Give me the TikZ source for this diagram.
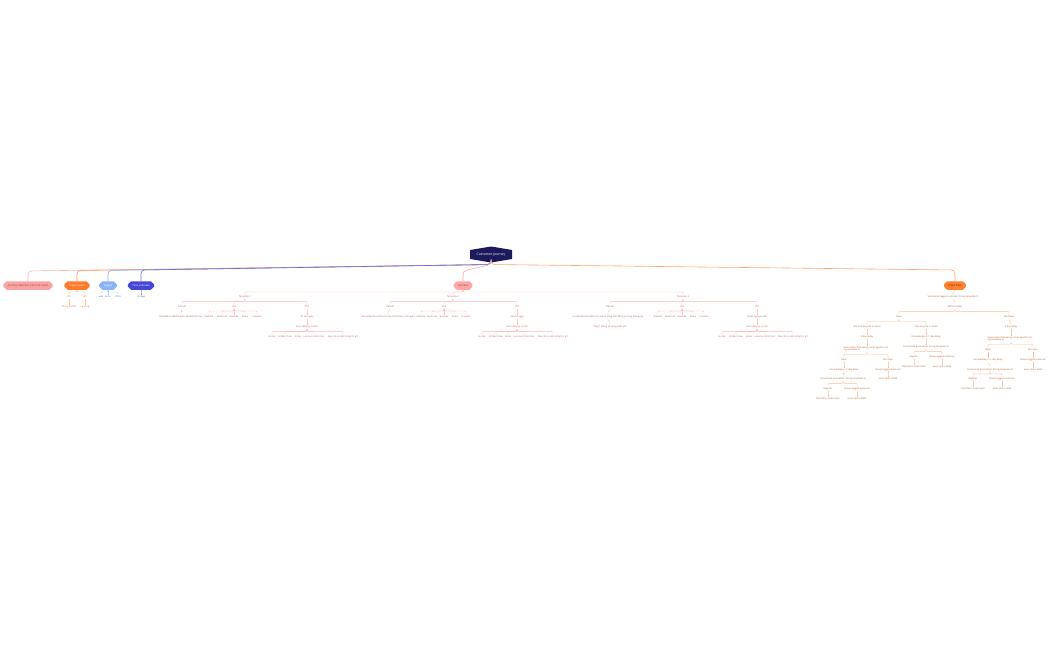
\documentclass[tikz,border=0pt]{standalone}
\usepackage{fontspec}
\setmainfont{Open Sans}
\usetikzlibrary{shapes.misc}
\definecolor{navy}{HTML}{1C1A5C}
\definecolor{cjo}{HTML}{F9A3A3}
\definecolor{cjot}{HTML}{9B3B3B}
\definecolor{cil}{HTML}{FF7A2A}
\definecolor{ctg}{HTML}{8AB2F7}
\definecolor{cte}{HTML}{4646D6}
\definecolor{cct}{HTML}{FFA6A6}
\definecolor{cctt}{HTML}{8B3030}
\definecolor{cef}{HTML}{FF8030}
\definecolor{ceft}{HTML}{6A2A00}
\definecolor{lct}{HTML}{C4575A}
\definecolor{lcl}{HTML}{FFB8B8}
\definecolor{let}{HTML}{B35A22}
\definecolor{lel}{HTML}{FFBE96}
\definecolor{lit}{HTML}{E0742A}
\definecolor{lil}{HTML}{FFB27E}
\definecolor{ltt}{HTML}{4A7DE0}
\definecolor{ltl}{HTML}{A9C6FA}
\definecolor{lxt}{HTML}{3F3FC8}
\definecolor{lxl}{HTML}{8C8CE8}
\newcommand\ed[3][2.5]{\draw[lnk] (#2.south) -- ++(0,#1) -| (#3.north);}
\newcommand\rcon[3]{\draw[rc, draw=#1] (root.south) -- (491,264.5) -- (#3,#2) -- (#3,279.5) -- (#3.north);}
\begin{document}
\begin{tikzpicture}[x=1pt,y=-1pt,
  lvl/.style={chamfered rectangle, chamfered rectangle sep=1.6pt, minimum height=8.5pt,
    inner xsep=3pt, inner ysep=0.5pt, font=\fontsize{2.6}{3}\selectfont},
  lf/.style={font=\fontsize{2.3}{2.7}\selectfont, inner sep=0.5pt, text=#1},
  lnk/.style={draw=black, line width=0.35pt, rounded corners=1pt},
  rc/.style={line width=0.6pt, rounded corners=3.5pt}]
\useasboundingbox[fill=white] (0,0) rectangle (1050,650);

% root
\fill[navy] (470,250) -- (491,246.5) -- (512,250) -- (512,259) -- (491,262.5) -- (470,259) -- cycle;
\node[text=white, font=\fontsize{3.4}{4}\selectfont, minimum height=16pt, inner sep=0pt] (root) at (491,254.5) {Customer Journey};

% level 1
\node[lvl, fill=cjo, text=cjot] (jo) at (28,285.5) {Journey Objective: Nurture Leads};
\node[lvl, fill=cil, text=white] (il) at (77,285.5) {Import Leads};
\node[lvl, fill=ctg, text=white] (tg) at (108,285.5) {Tagged};
\node[lvl, fill=cte, text=white] (te) at (141,285.5) {Time estimate};
\node[lvl, fill=cct, text=cctt] (ct) at (463,285.5) {Content};
\node[lvl, fill=cef, text=ceft] (ef) at (955,285.5) {Email Flow};

% root connectors
\draw[rc, draw=cjo!80] (root.south) -- (491,264.5) -- (28,271) -- (jo.north);
\draw[rc, draw=cil!80] (root.south) -- (491,264.5) -- (77,270.5) -- (il.north);
\draw[rc, draw=ctg] (root.south) -- (491,264.5) -- (108,270.5) -- (tg.north);
\draw[rc, draw=cte!80] (root.south) -- (491,264.5) -- (141,270) -- (te.north);
\draw[rc, draw=cct] (root.south) -- (491,264.5) -- (463,271) -- (ct.north);
\draw[rc, draw=cef!70] (root.south) -- (491,264.5) -- (955,270) -- (ef.north);

% Import leads
\begin{scope}[lnk/.style={draw=lil, line width=0.35pt, rounded corners=1pt}]
\node[lf=lit] (il1) at (69,297) {CSV};
\node[lf=lit] (il2) at (85,297) {API};
\node[lf=lit] (il1a) at (69,307) {Tháng 6/2024};
\node[lf=lit] (il2a) at (85,307) {Landing};
\ed[2]{il}{il1} \ed[2]{il}{il2}
\ed{il1}{il1a} \ed{il2}{il2a}
\end{scope}

% Tagged
\begin{scope}[lnk/.style={draw=ltl, line width=0.35pt, rounded corners=1pt}]
\node[lf=ltt] (tg1) at (101,297) {web};
\node[lf=ltt] (tg2) at (108,297) {demo};
\node[lf=ltt] (tg3) at (118,297) {2024};
\ed[2]{tg}{tg1} \ed[2]{tg}{tg2} \ed[2]{tg}{tg3}
\end{scope}

% Time estimate
\begin{scope}[lnk/.style={draw=lxl, line width=0.35pt, rounded corners=1pt}]
\node[lf=lxt] (te1) at (141,297) {15 days};
\ed[2]{te}{te1}
\end{scope}

% Content
\begin{scope}[lnk/.style={draw=lcl, line width=0.35pt, rounded corners=1pt}]
\node[lf=lct] (t1) at (245,297) {Template 1};
\node[lf=lct] (t2) at (453,297) {Template 2};
\node[lf=lct] (t3) at (683,297) {Template 3};
\ed[2]{ct}{t1} \ed[2]{ct}{t2} \ed[2]{ct}{t3}
% T1
\node[lf=lct] (t1a) at (182,307) {Tiêu đề};
\node[lf=lct] (t1b) at (234,307) {Link};
\node[lf=lct] (t1c) at (307,307) {CTA};
\ed{t1}{t1a} \ed{t1}{t1b} \ed{t1}{t1c}
\node[lf=lct] (t1a1) at (181,317) {SMS/Mã ưu đãi/Khuyến mãi/Đặt lịch hẹn};
\ed{t1a}{t1a1}
\node[lf=lct] (t1b1) at (209,317) {Website};
\node[lf=lct] (t1b2) at (222,317) {Facebook};
\node[lf=lct] (t1b3) at (234,317) {Youtube};
\node[lf=lct] (t1b4) at (245,317) {Email};
\node[lf=lct] (t1b5) at (257,317) {Linkedin};
\foreach \i in {1,...,5}{\ed{t1b}{t1b\i}}
\node[lf=lct] (t1c1) at (307,317) {Tư vấn ngay};
\node[lf=lct] (t1c2) at (307,327) {Form đăng ký tư vấn};
\ed{t1c}{t1c1} \ed{t1c1}{t1c2}
\node[lf=lct] (t1d1) at (272,337) {Họ tên};
\node[lf=lct] (t1d2) at (285,337) {Số điện thoại};
\node[lf=lct] (t1d3) at (298,337) {Email};
\node[lf=lct] (t1d4) at (314,337) {Lựa chọn hình thức};
\node[lf=lct] (t1d5) at (343,337) {Bạn cần tư vấn thông tin gì?};
\foreach \i in {1,...,5}{\ed{t1c2}{t1d\i}}
% T2
\node[lf=lct] (t2a) at (390,307) {Tiêu đề};
\node[lf=lct] (t2b) at (444,307) {Link};
\node[lf=lct] (t2c) at (517,307) {CTA};
\ed{t2}{t2a} \ed{t2}{t2b} \ed{t2}{t2c}
\node[lf=lct] (t2a1) at (388,317) {Giải pháp tối ưu/Chi phí hợp lý/Tiết kiệm thời gian};
\ed{t2a}{t2a1}
\node[lf=lct] (t2b1) at (421,317) {Website};
\node[lf=lct] (t2b2) at (432,317) {Facebook};
\node[lf=lct] (t2b3) at (444,317) {Youtube};
\node[lf=lct] (t2b4) at (455,317) {Email};
\node[lf=lct] (t2b5) at (466,317) {Linkedin};
\foreach \i in {1,...,5}{\ed{t2b}{t2b\i}}
\node[lf=lct] (t2c1) at (517,317) {Liên hệ ngay};
\node[lf=lct] (t2c2) at (517,327) {Form đăng ký tư vấn};
\ed{t2c}{t2c1} \ed{t2c1}{t2c2}
\node[lf=lct] (t2d1) at (482,337) {Họ tên};
\node[lf=lct] (t2d2) at (496,337) {Số điện thoại};
\node[lf=lct] (t2d3) at (508,337) {Email};
\node[lf=lct] (t2d4) at (524,337) {Lựa chọn hình thức};
\node[lf=lct] (t2d5) at (553,337) {Bạn cần tư vấn thông tin gì?};
\foreach \i in {1,...,5}{\ed{t2c2}{t2d\i}}
% T3
\node[lf=lct] (t3a) at (610,307) {Tiêu đề};
\node[lf=lct] (t3b) at (682,307) {Link};
\node[lf=lct] (t3c) at (757,307) {CTA};
\ed{t3}{t3a} \ed{t3}{t3b} \ed{t3}{t3c}
\node[lf=lct] (t3a1) at (608,317) {Ưu đãi đặc biệt dành cho khách hàng mới đăng ký trong tháng này};
\node[lf=lct] (t3a2) at (610,327) {Tặng 1 tháng sử dụng miễn phí};
\ed{t3a}{t3a1} \ed{t3a1}{t3a2}
\node[lf=lct] (t3b1) at (658,317) {Website};
\node[lf=lct] (t3b2) at (670,317) {Facebook};
\node[lf=lct] (t3b3) at (682,317) {Youtube};
\node[lf=lct] (t3b4) at (693,317) {Email};
\node[lf=lct] (t3b5) at (704,317) {Linkedin};
\foreach \i in {1,...,5}{\ed{t3b}{t3b\i}}
\node[lf=lct] (t3c1) at (757,317) {Nhận ngay ưu đãi};
\node[lf=lct] (t3c2) at (757,327) {Form đăng ký tư vấn};
\ed{t3c}{t3c1} \ed{t3c1}{t3c2}
\node[lf=lct] (t3d1) at (722,337) {Họ tên};
\node[lf=lct] (t3d2) at (736,337) {Số điện thoại};
\node[lf=lct] (t3d3) at (749,337) {Email};
\node[lf=lct] (t3d4) at (765,337) {Lựa chọn hình thức};
\node[lf=lct] (t3d5) at (793,337) {Bạn cần tư vấn thông tin gì?};
\foreach \i in {1,...,5}{\ed{t3c2}{t3d\i}}
\end{scope}

% Email flow
\begin{scope}[lnk/.style={draw=lel, line width=0.35pt, rounded corners=1pt},
  two/.style={lf=let, text width=47pt, align=left}]
\node[lf=let] (e1) at (953,296.5) {Send email tagged customer (Using template 1)};
\node[lf=let] (e2) at (955,307) {Within 3 days};
\ed[2]{ef}{e1} \ed{e1}{e2}
\node[lf=let] (eO) at (899,317) {Open};
\node[lf=let] (eN) at (1009,317) {Not Open};
\ed{e2}{eO} \ed{e2}{eN}
\node[lf=let] (eO1) at (867,327) {Not click any link in email};
\node[lf=let] (eO2) at (926,327) {Click any link in email};
\ed{eO}{eO1} \ed{eO}{eO2}
% not click
\node[lf=let] (a1) at (867,337) {3 day delay};
\node[two] (a2) at (867,349) {Send email introducing more specific (Using template 2)};
\ed{eO1}{a1} \ed{a1}{a2}
\node[lf=let] (a3) at (844,360) {Open};
\node[lf=let] (a4) at (888,360) {Not open};
\ed[2]{a2}{a3} \ed[2]{a2}{a4}
\node[lf=let] (a5) at (844,369.5) {Immediately or 1 day delay};
\node[lf=let] (a6) at (888,369.5) {Group tagged customer};
\ed{a3}{a5} \ed{a4}{a6}
\node[lf=let] (a7) at (843,379) {Send email promotions (Using template 3)};
\node[lf=let] (a8) at (888,379) {users demo 2024};
\ed{a5}{a7} \ed{a6}{a8}
\node[lf=let] (a9) at (828,389) {Register};
\node[lf=let] (a10) at (857,389) {Group tagged customer};
\ed{a7}{a9} \ed{a7}{a10}
\node[lf=let] (a11) at (828,399) {Transfer to sales team};
\node[lf=let] (a12) at (857,399) {users demo 2024};
\ed{a9}{a11} \ed{a10}{a12}
% click
\node[lf=let] (b1) at (926,337) {Immediately or 1 day delay};
\node[lf=let] (b2) at (926,347) {Send email promotions (Using template 3)};
\ed{eO2}{b1} \ed{b1}{b2}
\node[lf=let] (b3) at (914,357) {Register};
\node[lf=let] (b4) at (942,357) {Group tagged customer};
\ed{b2}{b3} \ed{b2}{b4}
\node[lf=let] (b5) at (914,367) {Transfer to sales team};
\node[lf=let] (b6) at (942,367) {users demo 2024};
\ed{b3}{b5} \ed{b4}{b6}
% not open
\node[lf=let] (c1) at (1011,327) {3 day delay};
\node[two] (c2) at (1011,339) {Send email introducing more specific (Using template 2)};
\ed{eN}{c1} \ed{c1}{c2}
\node[lf=let] (c3) at (988,350) {Open};
\node[lf=let] (c4) at (1033,350) {Not open};
\ed[2]{c2}{c3} \ed[2]{c2}{c4}
\node[lf=let] (c5) at (988,360) {Immediately or 1 day delay};
\node[lf=let] (c6) at (1033,360) {Group tagged customer};
\ed{c3}{c5} \ed{c4}{c6}
\node[lf=let] (c7) at (990,369.5) {Send email promotions (Using template 3)};
\node[lf=let] (c8) at (1033,369.5) {users demo 2024};
\ed{c5}{c7} \ed{c6}{c8}
\node[lf=let] (c9) at (973,379) {Register};
\node[lf=let] (c10) at (1002,379) {Group tagged customer};
\ed{c7}{c9} \ed{c7}{c10}
\node[lf=let] (c11) at (973,388.5) {Transfer to sales team};
\node[lf=let] (c12) at (1002,388.5) {users demo 2024};
\ed{c9}{c11} \ed{c10}{c12}
\end{scope}
\end{tikzpicture}
\end{document}
